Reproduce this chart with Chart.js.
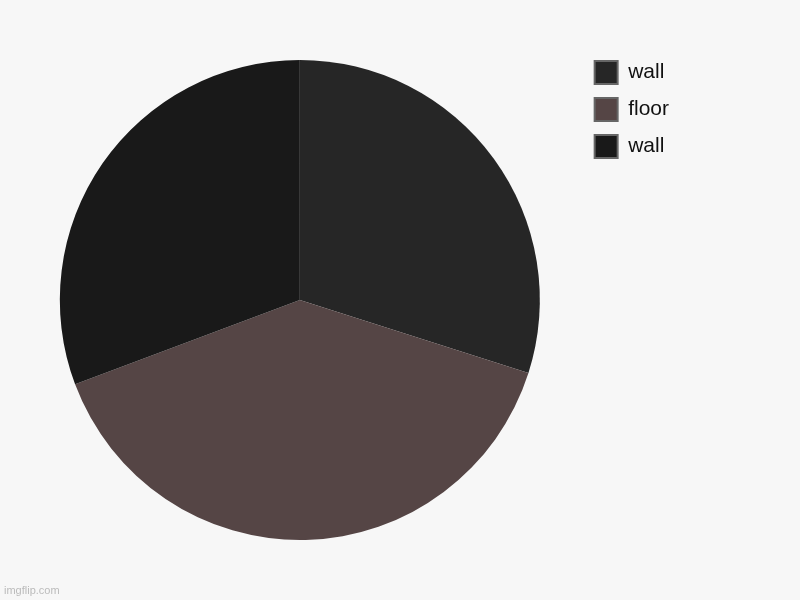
<!DOCTYPE html>
<html>
<head>
<meta charset="utf-8">
<script src="https://cdn.jsdelivr.net/npm/chart.js@4"></script>
<style>
  html, body { margin: 0; padding: 0; background: #f7f7f7; }
  #wrap { position: relative; width: 800px; height: 600px; }
  #marca { position: absolute; left: 4px; bottom: 4px; font: 11px "Liberation Sans", Arial, sans-serif; color: #bbb; }
</style>
</head>
<body>
<div id="wrap">
  <canvas id="grafico" width="800" height="600"></canvas>
  <div id="marca">imgflip.com</div>
</div>
<script>
const etiquetas = ["wall", "floor", "wall"];
const valores = [38, 50, 39];
const colores = ["#262626", "#554545", "#191919"];

const ctx = document.getElementById("grafico");

const chart = new Chart(ctx, {
  type: "pie",
  data: {
    labels: etiquetas,
    datasets: [{
      data: valores,
      backgroundColor: colores,
      borderWidth: 0,
      radius: 240
    }]
  },
  options: {
    responsive: false,
    animation: false,
    layout: { padding: { left: 19, right: 121, top: 47, bottom: 47 } },
    plugins: {
      tooltip: { enabled: false },
      legend: {
        position: "right",
        align: "start",
        labels: {
          boxWidth: 23,
          boxHeight: 23,
          padding: 14,
          color: "#111",
          font: { family: "'Liberation Sans', Arial, sans-serif", size: 21 },
          generateLabels: (c) => etiquetas.map((txt, i) => ({
            text: txt,
            fillStyle: colores[i],
            strokeStyle: "#666",
            lineWidth: 2,
            fontColor: "#111",
            index: i
          }))
        }
      }
    }
  }
});
</script>
</body>
</html>
